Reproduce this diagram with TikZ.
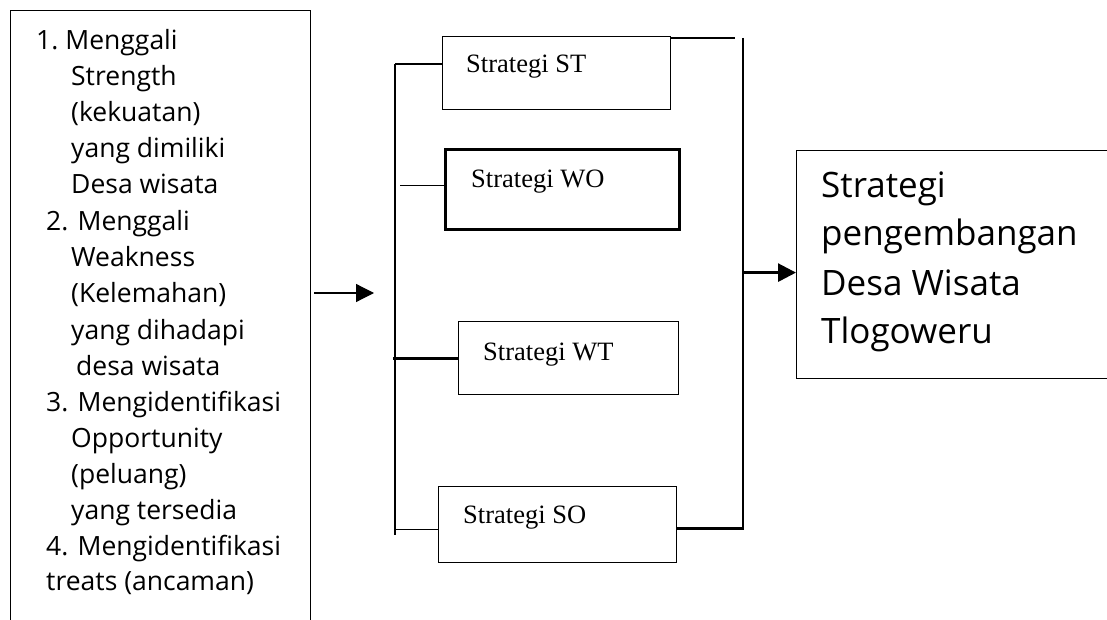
\documentclass[tikz,border=0pt]{standalone}
\usepackage{fontspec}
\setmainfont{Open Sans}
\newfontfamily\boxfont{Liberation Serif}
\usetikzlibrary{arrows.meta,positioning}

\begin{document}
\begin{tikzpicture}[x=1pt,y=-1pt,
    wire/.style={line width=1.2pt},
    bus/.style={line width=2.8pt},
    frame/.style={draw,line width=1.2pt,anchor=north west,inner sep=0pt},
    stxt/.style={anchor=base west,inner sep=0pt,font=\boxfont\fontsize{26.5}{30}\selectfont},
    item/.style={anchor=base west,inner sep=0pt,font=\fontsize{26.5}{36}\selectfont},
    big/.style={anchor=base west,inner sep=0pt,font=\fontsize{35}{48}\selectfont},
    arr/.style={-{Triangle[length=18pt,width=18pt]}}]
    \clip (0,0) rectangle (1107,620);
    \fill[white] (0,0) rectangle (1107,620);
    %% SWOT list
    \node[frame,minimum width=300pt,minimum height=640pt] (swot) at (10,10) {};
    \foreach \x/\y/\t [count=\i] in {36/50/{1.\hspace{7pt}Menggali}, 71/86/{Strength}, 71/122/{(kekuatan)},
        71/158/{yang dimiliki}, 71/194/{Desa wisata}, 46/230/{2. Menggali}, 71/266/{Weakness},
        71/302/{(Kelemahan)}, 71/339/{yang dihadapi}, 76/375/{desa wisata},
        46/411/{3. Mengidentifikasi}, 71/447/{Opportunity}, 71/483/{(peluang)},
        71/519/{yang tersedia}, 46/555/{4. Mengidentifikasi}, 46/590/{treats (ancaman)}}
        \node[item] (l\i) at (\x,\y) {\t};
    %% Strategies
    \node[frame,minimum width=228pt,minimum height=73pt] (st) at (442,36) {};
    \node[frame,line width=2.6pt,minimum width=234pt,minimum height=80pt] (wo) at (444,148) {};
    \node[frame,minimum width=220pt,minimum height=73pt] (wt) at (458,321) {};
    \node[frame,minimum width=238pt,minimum height=76pt] (so) at (438,486) {};
    \node[stxt] (tst) at (466,73) {Strategi ST};
    \node[stxt] (two) at (471,188) {Strategi WO};
    \node[stxt] (twt) at (483,360) {Strategi WT};
    \node[stxt] (tso) at (463,523) {Strategi SO};
    %% Result
    \node[frame,minimum width=340pt,minimum height=228pt] (hasil) at (796,150) {};
    \foreach \y/\t [count=\i] in {198/Strategi, 245/pengembangan, 295/Desa Wisata, 343/Tlogoweru}
        \node[big] (h\i) at (821,\y) {\t};
    %% Bus lines
    \coordinate (kiri) at (395,64);
    \coordinate (kanan) at (743,38);
    \coordinate (masuk) at (374,293);
    \coordinate (woin) at ([yshift=4pt]wo.west);
    \coordinate (soin) at ([yshift=-5pt]so.west);
    \coordinate (stout) at ([yshift=-2pt]st.north east);
    \coordinate (soout) at ([yshift=-4pt]so.east);
    \coordinate (hasilin) at ([yshift=-8pt]hasil.west);
    \draw[bus] (kiri) -- (kiri |- 0,535);
    \draw[wire] (kiri) -- (st.west |- kiri);
    \draw[wire] (woin) -- ([xshift=5pt]kiri |- woin);
    \draw[bus] (wt.west) -- ([xshift=-2pt]kiri |- wt.west);
    \draw[wire] (soin) -- (kiri |- soin);
    \draw[bus] (stout) -- ([xshift=-8pt]kanan);
    \draw[bus] (kanan) -- (kanan |- soout) -- (soout);
    %% Arrows
    \draw[wire,arr] ([xshift=3pt]swot.east |- masuk) -- (masuk);
    \draw[bus,arr] (kanan |- hasilin) -- (hasilin);
\end{tikzpicture}
\end{document}
